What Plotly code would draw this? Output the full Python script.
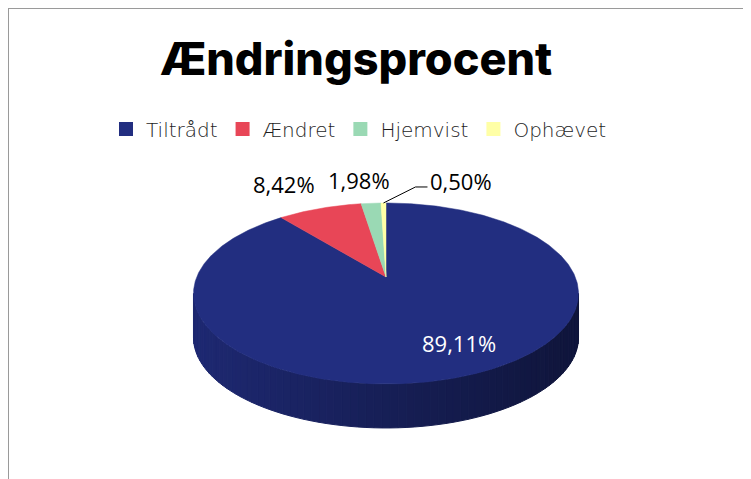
import numpy as np
import plotly.graph_objects as go

# ---- data ----
categories = ["Tiltrådt", "Ændret", "Hjemvist", "Ophævet"]
values = [89.11, 8.42, 1.98, 0.50]
colors = ["#222E80", "#E84657", "#9AD9B4", "#FFFFA6"]
title_text = "Ændringsprocent"

# ---- geometry (pixel space inside the figure, style only) ----
W, H = 743, 471               # page body keeps its default 8px margin
CX, CY = 378.0, 269.0         # projected pie centre
A, B, K = 189.3, 87.5, 0.182  # radii + perspective factor
DEPTH = 44.0


def proj(theta_deg, r=1.0, dy=0.0):
    t = np.radians(theta_deg)
    u = r * np.sin(t)
    v = r * np.cos(t)
    d = 1 + K * v
    return CX + A * u / d, CY - B * v / d + dy


def hex_rgb(h):
    h = h.lstrip("#")
    return tuple(int(h[i:i + 2], 16) for i in (0, 2, 4))


total = sum(values)
angles = np.cumsum([0] + [v / total * 360 for v in values])
front_lo = 90 + np.degrees(np.arcsin(K))
front_hi = 270 - np.degrees(np.arcsin(K))
left_x = proj(front_hi)[0]
right_x = proj(front_lo)[0]

fig = go.Figure()

# side walls (front, shaded strips)
for i, c in enumerate(colors):
    s, e = max(angles[i], front_lo), min(angles[i + 1], front_hi)
    if e <= s:
        continue
    n = max(2, int((e - s) / 2.0))
    edges = np.linspace(s, e, n + 1)
    rgb = hex_rgb(c)
    for a0, a1 in zip(edges[:-1], edges[1:]):
        ts = np.linspace(a0, a1, 4)
        top = [proj(t) for t in ts]
        bot = [proj(t, dy=DEPTH) for t in ts[::-1]]
        pts = top + bot + [top[0]]
        xm = proj((a0 + a1) / 2)[0]
        frac = (xm - left_x) / (right_x - left_x)
        f = 0.89 - 0.43 * frac
        col = "rgb(%d,%d,%d)" % tuple(int(ch * f) for ch in rgb)
        fig.add_trace(go.Scatter(
            x=[p[0] for p in pts], y=[p[1] for p in pts],
            mode="lines", fill="toself", fillcolor=col,
            line=dict(color=col, width=1), hoverinfo="skip", showlegend=False))

# top faces
for i, (cat, v, c) in enumerate(zip(categories, values, colors)):
    ts = np.linspace(angles[i], angles[i + 1], max(3, int((angles[i + 1] - angles[i]) * 2)))
    pts = [(CX, CY)] + [proj(t) for t in ts] + [(CX, CY)]
    fig.add_trace(go.Scatter(
        x=[p[0] for p in pts], y=[p[1] for p in pts],
        mode="lines", fill="toself", fillcolor=c,
        line=dict(color=c, width=0.5), name=cat,
        hovertext=f"{cat}: {v:.2f}%", hoverinfo="text", showlegend=False))

# legend entries
for cat, c in zip(categories, colors):
    fig.add_trace(go.Scatter(
        x=[None], y=[None], mode="markers", name=cat,
        marker=dict(symbol="square", size=14, color=c)))

# data labels
label_font = dict(family="Open Sans", size=22)
fmt = lambda v: f"{v:.2f}".replace(".", ",") + "%"
mids = [(angles[i] + angles[i + 1]) / 2 for i in range(len(values))]

# inside label for big slice
x0, y0 = proj(mids[0], r=0.7)
fig.add_annotation(x=x0 + 22, y=y0, text=fmt(values[0]), showarrow=False,
                   font=dict(color="white", **label_font))
# outside labels
offsets = {1: (-36, -25), 2: (-12, -23)}
for i, (dx, dy) in offsets.items():
    xa, ya = proj(mids[i])
    fig.add_annotation(x=xa + dx, y=ya + dy, text=fmt(values[i]), showarrow=False,
                       font=dict(color="black", **label_font))
# leader-line label for smallest slice
xa, ya = proj(mids[3])
fig.add_trace(go.Scatter(x=[xa, xa + 32, xa + 44], y=[ya, ya - 16, ya - 16], mode="lines",
                         line=dict(color="black", width=1), hoverinfo="skip", showlegend=False))
fig.add_annotation(x=xa + 45, y=ya - 22, text=fmt(values[3]), showarrow=False, xanchor="left",
                   font=dict(color="black", **label_font))

# frame lines (chart area border)
fig.add_shape(type="line", x0=0, x1=0, y0=0, y1=H, line=dict(color="#9A9A9A", width=2))
fig.add_shape(type="line", x0=0, x1=W, y0=0, y1=0, line=dict(color="#9A9A9A", width=2))

fig.update_layout(
    width=W, height=H,
    margin=dict(l=0, r=0, t=0, b=0),
    paper_bgcolor="white", plot_bgcolor="white",
    xaxis=dict(range=[0, W], visible=False, fixedrange=True),
    yaxis=dict(range=[H, 0], visible=False, fixedrange=True),
    title=dict(text=title_text, x=348 / W, xanchor="center", y=1 - 51 / H, yanchor="middle",
               font=dict(family="Inter", size=45, color="black", weight=800)),
    legend=dict(orientation="h", x=351 / W, xanchor="center", y=1 - 121 / H, yanchor="middle",
                font=dict(family="DejaVu Sans", size=20, color="#1E1E1E", weight=200),
                itemclick=False, itemdoubleclick=False, bgcolor="rgba(0,0,0,0)"),
    showlegend=True,
)

fig.write_html("out.html")
